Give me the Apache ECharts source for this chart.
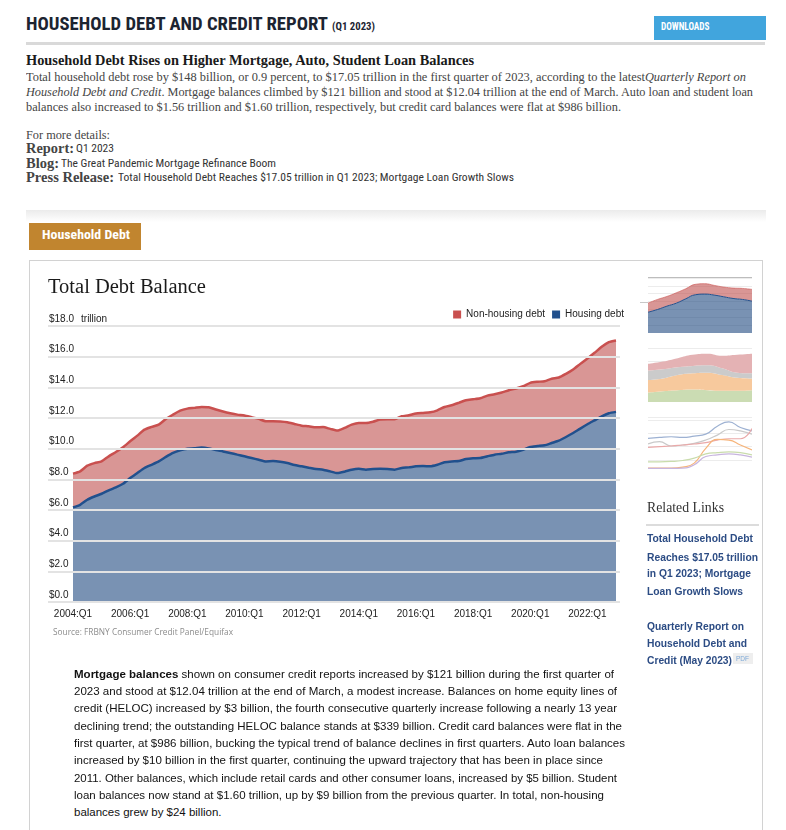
<!DOCTYPE html>
<html>
<head>
<meta charset="utf-8">
<script src="https://cdn.jsdelivr.net/npm/echarts@6/dist/echarts.min.js"></script>
<style>
html,body{margin:0;padding:0;background:#fff;}
body{width:786px;height:830px;position:relative;overflow:hidden;}
.t{position:absolute;white-space:nowrap;line-height:1;transform-origin:0 50%;}
.box{position:absolute;}
</style>
</head>
<body>
<div class="box" style="left:654px;top:16px;width:112px;height:24px;background:#41a5dd;"></div>
<div class="box" style="left:26px;top:42px;width:739px;height:3px;background:#d9d9d9;"></div>
<div class="box" style="left:26px;top:210px;width:740px;height:12px;background:linear-gradient(#ebebeb,#ffffff);"></div>
<div class="box" style="left:29px;top:223px;width:112px;height:27px;background:#c1852f;"></div>
<div class="box" style="left:29px;top:260px;width:732px;height:640px;border:1px solid #d2d2d2;"></div>
<div id="main" class="box" style="left:30px;top:262px;width:612px;height:390px;"></div>
<div class="box" style="left:640px;top:302px;width:8px;height:1px;background:#c8c8c8;"></div>
<div class="box" style="left:648px;top:277px;width:104px;height:1px;background:#bdbdbd;"></div>
<div id="th1" class="box" style="left:648px;top:278px;width:104px;height:55px;"></div>
<div id="th2" class="box" style="left:648px;top:348px;width:104px;height:54px;"></div>
<div id="th3" class="box" style="left:648px;top:417px;width:104px;height:56px;"></div>
<div class="box" style="left:646px;top:524px;width:113px;height:2px;background:#dcdcdc;"></div>
<div class="box" style="left:733px;top:653px;width:20px;height:11px;background:#eeeeee;"></div>

<script>
// ---------------- DATA ----------------
const tickLabels = ['2004:Q1','2006:Q1','2008:Q1','2010:Q1','2012:Q1','2014:Q1','2016:Q1','2018:Q1','2020:Q1','2022:Q1'];

// Housing debt (mortgage + HELOC), $ trillion, 2004:Q1 .. 2023:Q1
const housingDebt = [
  6.17,6.34,6.67,6.88,7.06,7.28,7.47,7.71,8.08,8.41,
  8.74,8.95,9.17,9.46,9.72,9.89,10.00,10.02,10.07,10.02,
  9.91,9.82,9.72,9.61,9.50,9.39,9.28,9.17,9.19,9.15,
  9.06,8.93,8.85,8.76,8.67,8.63,8.52,8.41,8.50,8.63,
  8.69,8.63,8.67,8.69,8.67,8.63,8.74,8.78,8.85,8.87,
  8.85,8.95,9.11,9.17,9.19,9.32,9.37,9.39,9.50,9.61,
  9.67,9.76,9.80,9.93,10.11,10.17,10.22,10.37,10.52,10.76,
  11.02,11.31,11.59,11.85,12.11,12.31,12.40
];
// Non-housing debt, $ trillion, 2004:Q1 .. 2023:Q1
const nonHousingDebt = [
  2.20,2.18,2.22,2.18,2.11,2.22,2.31,2.38,2.40,2.44,
  2.50,2.47,2.40,2.48,2.50,2.59,2.61,2.64,2.65,2.68,
  2.64,2.60,2.59,2.61,2.66,2.66,2.66,2.62,2.60,2.62,
  2.66,2.68,2.65,2.70,2.72,2.78,2.77,2.77,2.85,2.94,
  2.99,3.05,3.09,3.21,3.25,3.29,3.37,3.40,3.44,3.46,
  3.52,3.55,3.61,3.66,3.80,3.84,3.85,3.90,3.96,3.94,
  3.99,4.05,4.12,4.14,4.18,4.19,4.18,4.19,4.12,4.12,
  4.14,4.22,4.29,4.40,4.54,4.64,4.66
];

// thumbnail 1 (small stacked area)
const thumbHousing    = [5.29,5.98,6.83,7.60,8.71,9.73,9.90,9.65,9.22,8.79,8.54,8.11];
const thumbNonHousing = [2.31,2.56,2.47,2.64,2.56,2.65,2.65,2.47,2.48,2.65,2.81,2.99];
// thumbnail 2 (composition stacked area)
const thumbGreen  = [28,32,35,37,35,33,33,35];
const thumbOrange = [37,38,45,48,52,47,39,35];
const thumbGrey   = [28,27,23,22,22,20,15,15];
const thumbPink   = [20,23,27,33,34,37,53,58];
// thumbnail 3 (lines)
const thumbLineBlue   = [105,108,110,108,112,118,142,155,138,128];
const thumbLineGrey   = [88,95,82,85,90,100,115,132,128,118];
const thumbLineRed    = [78,80,82,85,88,92,100,104,104,135];
const thumbLineOrange = [15,15,15,18,30,75,102,100,85,70];
const thumbLineGreen  = [34,34,35,38,45,58,62,64,62,55];
const thumbLinePurple = [14,14,14,15,25,50,55,58,55,48];

const categories = [];
for (let y = 2004; y <= 2023; y++) for (let q = 1; q <= 4; q++) {
  if (y === 2023 && q > 1) break;
  categories.push(y + ':Q' + q);
}

// ---------------- TEXT ----------------
const SERIF = "'Liberation Serif','DejaVu Serif',serif";
const SANS = "'Liberation Sans',Arial,sans-serif";
const NARROW = "'Liberation Sans Narrow','Roboto Condensed','DejaVu Sans Condensed',Roboto,sans-serif";
const OPEN = "'Open Sans','DejaVu Sans',sans-serif";

function T(html, x, cy, font, size, weight, color, w) {
  const d = document.createElement('div');
  d.className = 't';
  d.innerHTML = html;
  d.style.left = x + 'px';
  d.style.top = (cy - size * 0.54) + 'px';
  d.style.fontFamily = font;
  d.style.fontSize = size + 'px';
  d.style.fontWeight = weight;
  d.style.color = color;
  if (w) d.dataset.w = w;
  document.body.appendChild(d);
  return d;
}

T('HOUSEHOLD DEBT AND CREDIT REPORT', 26, 24.5, NARROW, 19, 700, '#1c2431', 302);
T('(Q1 2023)', 331.5, 27, NARROW, 11.5, 700, '#1c2431', 43);
T('DOWNLOADS', 660.5, 27.5, NARROW, 10, 700, '#ffffff', 48.5);
T('Household Debt Rises on Higher Mortgage, Auto, Student Loan Balances', 26, 61, SERIF, 14.5, 700, '#1a1a1a', 448);
T('Total household debt rose by $148 billion, or 0.9 percent, to $17.05 trillion in the first quarter of 2023, according to the latest<i>Quarterly Report on</i>', 26, 77.3, SERIF, 12, 400, '#444', 720);
T('<i>Household Debt and Credit</i>. Mortgage balances climbed by $121 billion and stood at $12.04 trillion at the end of March. Auto loan and student loan', 26, 92.3, SERIF, 12, 400, '#444', 727);
T('balances also increased to $1.56 trillion and $1.60 trillion, respectively, but credit card balances were flat at $986 billion.', 26, 107.3, SERIF, 12, 400, '#444', 595);
T('For more details:', 26, 135.5, SERIF, 12, 400, '#444', 84);
T('Report:', 26, 148.5, SERIF, 14.5, 700, '#444', 48);
T('Q1 2023', 76, 149, NARROW, 11, 400, '#333', 38);
T('Blog:', 26, 163.5, SERIF, 14.5, 700, '#444', 33);
T('The Great Pandemic Mortgage Refinance Boom', 61, 164, NARROW, 11, 400, '#333', 215);
T('Press Release:', 26, 178, SERIF, 14.5, 700, '#444', 88);
T('Total Household Debt Reaches $17.05 trillion in Q1 2023; Mortgage Loan Growth Slows', 118, 178.3, NARROW, 11, 400, '#333', 396);
T('Household Debt', 41.6, 236, NARROW, 12.5, 700, '#ffffff', 88);
T('Source: FRBNY Consumer Credit Panel/Equifax', 52.6, 633, OPEN, 8.5, 400, '#8c8c8c', 180);

T('Related Links', 647, 508, SERIF, 15, 400, '#333', 77);
const LC = '#2c4c84';
T('Total Household Debt', 647, 540, SANS, 10.3, 700, LC, 106);
T('Reaches $17.05 trillion', 647, 558.3, SANS, 10.3, 700, LC, 111);
T('in Q1 2023; Mortgage', 647, 575, SANS, 10.3, 700, LC, 104);
T('Loan Growth Slows', 647, 592.3, SANS, 10.3, 700, LC, 96);
T('Quarterly Report on', 647, 627.7, SANS, 10.3, 700, LC, 97);
T('Household Debt and', 647, 644.3, SANS, 10.3, 700, LC, 100);
T('Credit (May 2023)', 647, 661.7, SANS, 10.3, 700, LC, 85);
T('PDF', 736, 658.5, SANS, 7, 400, '#7eaad8', 13);

const bottomLines = [
  ['<b>Mortgage balances</b> shown on consumer credit reports increased by $121 billion during the first quarter of', 540],
  ['2023 and stood at $12.04 trillion at the end of March, a modest increase. Balances on home equity lines of', 543],
  ['credit (HELOC) increased by $3 billion, the fourth consecutive quarterly increase following a nearly 13 year', 543],
  ['declining trend; the outstanding HELOC balance stands at $339 billion. Credit card balances were flat in the', 548],
  ['first quarter, at $986 billion, bucking the typical trend of balance declines in first quarters. Auto loan balances', 551],
  ['increased by $10 billion in the first quarter, continuing the upward trajectory that has been in place since', 529],
  ['2011. Other balances, which include retail cards and other consumer loans, increased by $5 billion. Student', 543],
  ['loan balances now stand at $1.60 trillion, up by $9 billion from the previous quarter. In total, non-housing', 530],
  ['balances grew by $24 billion.', 147.5]
];
bottomLines.forEach((l, i) => T(l[0], 74, 675 + 17.3 * i, SANS, 11.5, 400, '#111', l[1]));

function fit() {
  document.querySelectorAll('.t[data-w]').forEach(el => {
    el.style.transform = 'none';
    const w = el.getBoundingClientRect().width;
    if (w > 0) el.style.transform = 'scaleX(' + (+el.dataset.w / w) + ')';
  });
}
fit();
if (document.fonts && document.fonts.ready) document.fonts.ready.then(fit);

// ---------------- MAIN CHART ----------------
const RED = '#c9504f', BLUE = '#21508d';
const main = echarts.init(document.getElementById('main'));
main.setOption({
  animation: false,
  textStyle: { fontFamily: SANS },
  title: {
    text: 'Total Debt Balance', left: 18, top: 15.5, padding: 0,
    textStyle: { fontFamily: SERIF, fontWeight: 'normal', fontSize: 20.5, color: '#1a1a1a' }
  },
  legend: {
    data: ['Non-housing debt', 'Housing debt'], right: 18, top: 47.5, padding: 0,
    icon: 'rect', itemWidth: 8, itemHeight: 8, itemGap: 7,
    textStyle: { fontSize: 10, color: '#222' }
  },
  grid: [
    { left: 18, top: 64, width: 572, height: 276 },
    { left: 43, top: 64, width: 543, height: 276 }
  ],
  xAxis: [
    { gridIndex: 0, type: 'value', show: false, min: 0, max: 1 },
    {
      gridIndex: 1, type: 'category', boundaryGap: false, data: categories,
      axisLine: { show: false }, axisTick: { show: false },
      axisLabel: {
        interval: 0, margin: 7, fontSize: 10, color: '#222',
        formatter: v => tickLabels.includes(v) ? v : ''
      }
    }
  ],
  yAxis: [
    {
      gridIndex: 0, type: 'value', min: 0, max: 18, interval: 2,
      axisLine: { show: false }, axisTick: { show: false },
      splitLine: { lineStyle: { color: '#e3e3e3', width: 2 } },
      axisLabel: {
        inside: true, margin: 1, verticalAlign: 'bottom', padding: [0, 0, 2, 0],
        fontSize: 10, color: '#222',
        formatter: v => v === 18 ? '{a|$18.0}{b|trillion}' : '$' + v.toFixed(1),
        rich: { a: { fontSize: 10, color: '#222' }, b: { fontSize: 10, color: '#222', padding: [0, 0, 0, 7] } }
      },
      z: 5
    },
    { gridIndex: 1, type: 'value', min: 0, max: 18, show: false }
  ],
  series: [
    {
      name: 'Housing debt', type: 'line', xAxisIndex: 1, yAxisIndex: 1, stack: 'total',
      data: housingDebt, symbol: 'none', smooth: 0.2, z: 3,
      lineStyle: { color: BLUE, width: 2.5 }, itemStyle: { color: BLUE },
      areaStyle: { color: 'rgba(31,74,128,0.6)', opacity: 1 }
    },
    {
      name: 'Non-housing debt', type: 'line', xAxisIndex: 1, yAxisIndex: 1, stack: 'total',
      data: nonHousingDebt, symbol: 'none', smooth: 0.2, z: 2,
      lineStyle: { color: RED, width: 2.5 }, itemStyle: { color: RED },
      areaStyle: { color: 'rgba(192,80,78,0.6)', opacity: 1 }
    }
  ]
});

// ---------------- THUMBNAILS ----------------
function thumb(id, ymax, yint, series) {
  const c = echarts.init(document.getElementById(id));
  c.setOption({
    animation: false,
    grid: { left: 0, right: 0, top: 0, bottom: 0 },
    xAxis: { type: 'category', boundaryGap: false, show: false, data: series[0].data.map((_, i) => i) },
    yAxis: { type: 'value', min: 0, max: ymax, interval: yint, axisLabel: { show: false },
      axisLine: { show: false }, axisTick: { show: false },
      splitLine: { lineStyle: { color: '#ececec', width: 1 } } },
    series: series
  });
}
thumb('th1', 14, 2, [
  { type: 'line', stack: 's', data: thumbHousing, symbol: 'none', smooth: true,
    lineStyle: { color: BLUE, width: 1 }, areaStyle: { color: 'rgba(31,74,128,0.6)', opacity: 1 } },
  { type: 'line', stack: 's', data: thumbNonHousing, symbol: 'none', smooth: true,
    lineStyle: { color: 'rgba(201,80,79,0.6)', width: 1 }, areaStyle: { color: 'rgba(192,80,78,0.6)', opacity: 1 } }
]);
const area = (d, c) => ({ type: 'line', stack: 's', data: d, symbol: 'none', smooth: true,
  lineStyle: { width: 0 }, areaStyle: { color: c, opacity: 1 } });
thumb('th2', 160, 40, [
  area(thumbGreen, '#cbdcb3'), area(thumbOrange, '#f7c99d'),
  area(thumbGrey, '#cbcbcb'), area(thumbPink, '#e4b2b4')
]);
const ln = (d, c) => ({ type: 'line', data: d, symbol: 'none', smooth: true, lineStyle: { color: c, width: 1.2 } });
thumb('th3', 170, 40, [
  ln(thumbLineBlue, '#9db1d2'), ln(thumbLineGrey, '#c9c9c9'), ln(thumbLineRed, '#eaa9a9'),
  ln(thumbLineOrange, '#f6b47a'), ln(thumbLineGreen, '#c9dcac'), ln(thumbLinePurple, '#c7b5de')
]);
</script>
</body>
</html>
